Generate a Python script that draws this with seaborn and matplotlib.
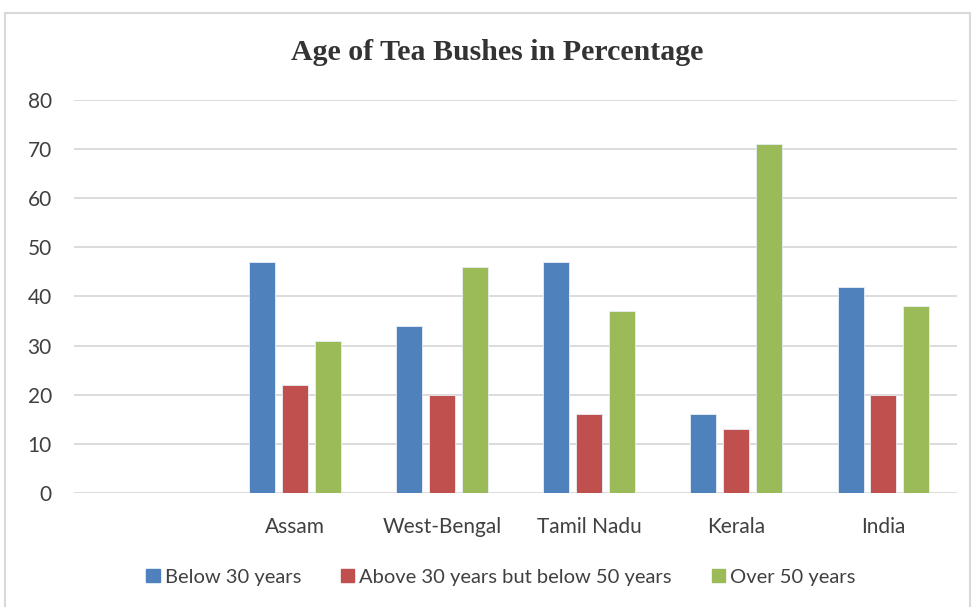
import pandas as pd
import matplotlib
matplotlib.use("Agg")
import matplotlib.pyplot as plt
import seaborn as sns
from matplotlib.patches import Rectangle

# data
regions = ["Assam", "West-Bengal", "Tamil Nadu", "Kerala", "India"]
below_30 = [47, 34, 47, 16, 42]
between_30_50 = [22, 20, 16, 13, 20]
over_50 = [31, 46, 37, 71, 38]
series_names = ["Below 30 years", "Above 30 years but below 50 years", "Over 50 years"]
colors = ["#4F81BD", "#C0504D", "#9BBB59"]

# first slot on the axis is empty in the original
order = [" "] + regions

df = pd.DataFrame({
    "region": regions * 3,
    "value": below_30 + between_30_50 + over_50,
    "series": [series_names[0]] * 5 + [series_names[1]] * 5 + [series_names[2]] * 5,
})

sns.set_theme(style="white")
plt.rcParams["font.family"] = ["Lato", "DejaVu Sans"]

fig = plt.figure(figsize=(9.71, 6.07), dpi=100)
ax = fig.add_axes([0.0762, 0.1878, 0.9094, 0.6475])

sns.barplot(data=df, x="region", y="value", hue="series", order=order,
            hue_order=series_names, palette=colors, saturation=1,
            width=0.67, gap=0.21, edgecolor="#E8EEF6", linewidth=0.6,
            ax=ax, zorder=3)

ax.set_ylim(0, 80)
ax.set_yticks(range(0, 81, 10))
ax.yaxis.grid(True, color="#D9D9D9", linewidth=1.3, zorder=0)
ax.set_axisbelow(True)
for s in ax.spines.values():
    s.set_visible(False)
ax.set_xlabel("")
ax.set_ylabel("")
ax.tick_params(axis="both", length=0, labelsize=15, colors="#404040")
ax.tick_params(axis="x", pad=17)
ax.tick_params(axis="y", pad=16)

fig.text(0.512, 0.913, "Age of Tea Bushes in Percentage", ha="center", va="center",
         fontsize=21.5, fontweight="bold", family="Liberation Serif", color="#333333")

ax.legend_.remove()
handles = [Rectangle((0, 0), 1, 1, color=c) for c in colors]
fig.legend(handles, series_names, loc="center", bbox_to_anchor=(0.516, 0.049), ncol=3,
           frameon=False, fontsize=14.5, handlelength=0.65, handleheight=0.65,
           handletextpad=0.25, columnspacing=2.0, labelcolor="#404040")

# outer chart frame
fig.patches.append(Rectangle((5 / 971, -0.01), 965 / 971, 1 - 13 / 607 + 0.01,
                             transform=fig.transFigure, fill=False,
                             edgecolor="#D9D9D9", linewidth=1.5))

fig.savefig("out.png", dpi=100)
